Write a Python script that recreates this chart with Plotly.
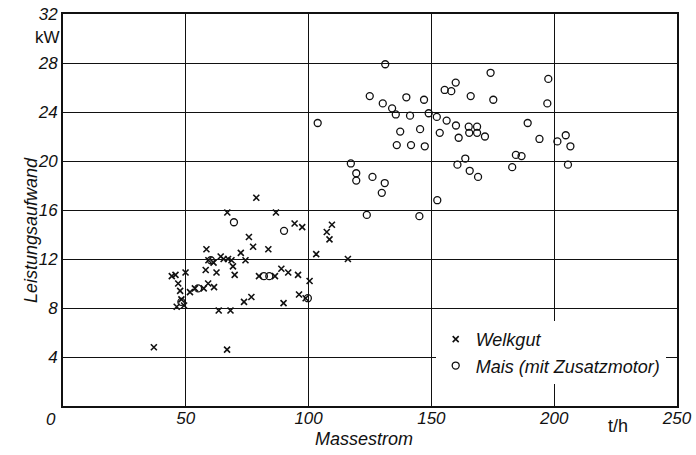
import plotly.graph_objects as go

# Welkgut (crosses)
welkgut_x = [37.0, 66.8, 44.3, 45.8, 46.9, 47.7, 48.2, 46.3, 49.3, 49.9, 51.7, 53.7, 57.3, 59.1,
             61.5, 58.1, 58.4, 59.2, 61.3, 62.5, 63.4, 64.2, 65.4, 66.9, 67.2, 68.2, 68.6, 69.2,
             69.9, 72.4, 73.7, 74.3, 75.7, 76.7, 77.4, 78.7, 79.8, 83.6, 86.3, 86.7, 88.9, 89.8,
             91.7, 94.3, 95.7, 96.1, 97.4, 98.8, 100.4, 103.1, 107.4, 108.5, 109.5, 116.0]
welkgut_y = [4.8, 4.6, 10.6, 10.7, 10.0, 9.4, 8.7, 8.1, 8.2, 10.9, 9.3, 9.6, 9.6, 10.0,
             9.7, 11.1, 12.8, 11.9, 11.7, 10.9, 7.8, 12.2, 12.0, 15.8, 12.0, 7.8, 11.9, 11.4,
             10.7, 12.5, 8.5, 11.9, 13.8, 8.9, 13.0, 17.0, 10.6, 12.8, 10.6, 15.8, 11.2, 8.4,
             10.9, 14.9, 10.7, 9.1, 14.6, 8.8, 10.2, 12.4, 14.2, 13.6, 14.8, 12.0]

# Mais (mit Zusatzmotor) (circles)
mais_x = [131.2, 174.1, 197.6, 159.9, 155.4, 158.1, 124.9, 139.8, 147.0, 166.0, 175.2, 197.2,
          130.2, 134.0, 135.5, 141.3, 148.9, 152.2, 156.2, 160.0, 165.2, 168.6, 165.4, 168.6,
          171.8, 189.2, 153.4, 161.1, 137.3, 145.4, 135.9, 141.7, 147.3, 194.0, 201.3, 204.7,
          206.6, 184.4, 186.7, 182.9, 205.6, 163.8, 160.6, 165.6, 169.0, 117.2, 119.4, 119.4,
          126.0, 131.0, 129.8, 152.4, 123.7, 145.1, 103.7, 69.6, 90.0, 48.2, 55.0, 60.2,
          81.8, 84.0, 99.7]
mais_y = [27.9, 27.2, 26.7, 26.4, 25.8, 25.7, 25.3, 25.2, 25.0, 25.3, 25.0, 24.7,
          24.7, 24.3, 23.8, 23.7, 23.9, 23.6, 23.3, 22.9, 22.8, 22.8, 22.3, 22.3,
          22.0, 23.1, 22.3, 21.9, 22.4, 22.6, 21.3, 21.3, 21.2, 21.8, 21.6, 22.1,
          21.2, 20.5, 20.4, 19.5, 19.7, 20.2, 19.7, 19.2, 18.7, 19.8, 19.0, 18.4,
          18.7, 18.2, 17.4, 16.8, 15.6, 15.5, 23.1, 15.0, 14.3, 8.5, 9.6, 11.9,
          10.6, 10.6, 8.8]

x_ticks = [50, 100, 150, 200, 250]
y_ticks = [4, 8, 12, 16, 20, 24, 28, 32]

FONT = "Liberation Sans"
fnt = dict(family=FONT, size=17, color="#111", style="italic")

fig = go.Figure()
fig.add_trace(go.Scatter(
    x=welkgut_x, y=welkgut_y, mode="markers", name="Welkgut",
    marker=dict(symbol="x-thin", size=6, color="#111", line=dict(width=1.6, color="#111")),
))
fig.add_trace(go.Scatter(
    x=mais_x, y=mais_y, mode="markers", name="Mais (mit Zusatzmotor)",
    marker=dict(symbol="circle-open", size=7, color="#111", line=dict(width=1.3, color="#111")),
))

axis_common = dict(showgrid=True, gridcolor="#111", gridwidth=1.4, showline=True,
                   linecolor="#111", linewidth=2, mirror=True, zeroline=False,
                   ticks="", tickfont=fnt, automargin=False)

fig.update_layout(
    width=696, height=455,
    margin=dict(l=63, r=19, t=14, b=49),
    paper_bgcolor="white", plot_bgcolor="white",
    showlegend=True,
    legend=dict(x=0.607, xanchor="left", y=0.217, yanchor="top",
                bgcolor="white", borderwidth=0,
                font=dict(family=FONT, size=18, color="#111", style="italic"),
                itemsizing="trace", tracegroupgap=0),
    xaxis=dict(range=[0, 250], tickvals=x_ticks, ticktext=[str(v) for v in x_ticks],
               ticklabelstandoff=-4, **axis_common),
    yaxis=dict(range=[0, 32], tickvals=y_ticks, ticktext=[str(v) for v in y_ticks], **axis_common),
    annotations=[
        dict(text="0", xref="paper", yref="paper", x=-0.02, y=-0.035, showarrow=False,
             font=fnt, xanchor="center", yanchor="middle"),
        dict(text="kW", xref="paper", yref="paper", x=-0.026, y=0.94, showarrow=False,
             font=dict(family=FONT, size=17, color="#111"), xanchor="center", yanchor="middle"),
        dict(text="t/h", xref="paper", yref="paper", x=0.904, y=-0.05, showarrow=False,
             font=dict(family=FONT, size=18, color="#111"), xanchor="center", yanchor="middle"),
        dict(text="Massestrom", xref="paper", yref="paper", x=0.49, y=-0.085, showarrow=False,
             font=dict(family=FONT, size=18, color="#111", style="italic"),
             xanchor="center", yanchor="middle"),
        dict(text="Leistungsaufwand", xref="paper", yref="paper", x=-0.053, y=0.45,
             showarrow=False, textangle=-90,
             font=dict(family=FONT, size=18, color="#111", style="italic"),
             xanchor="center", yanchor="middle"),
    ],
)

fig.write_html("out.html", config={"displayModeBar": False},
               post_script="document.body.style.margin='0';")
